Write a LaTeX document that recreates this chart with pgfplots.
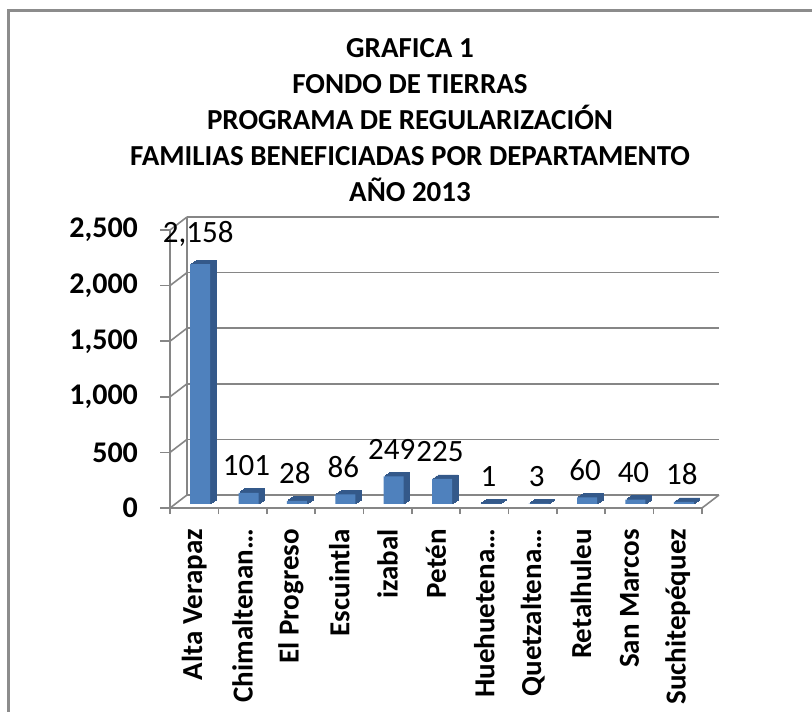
\documentclass[border=0pt]{standalone}
\usepackage{pgfplots}
\pgfplotsset{compat=1.18}
\usepackage{fontspec}
\setmainfont{Carlito}
\definecolor{barfront}{HTML}{4F81BD}
\definecolor{barside}{HTML}{34598A}
\definecolor{gridc}{HTML}{868686}
\definecolor{framec}{HTML}{8C8C8C}
\pgfplotstableread{
x y
0 2158
1 101
2 28
3 86
4 249
5 225
6 1
7 3
8 60
9 40
10 18
}\datatable
\begin{document}
\begin{tikzpicture}
\useasboundingbox (0,0) rectangle (406pt,355.5pt);
\draw[framec, line width=1.2pt] (4.2pt,-2pt) -- (4.2pt,350.2pt) -- (410pt,350.2pt);
\begin{scope}[every node/.style={font=\bfseries\fontsize{14.5}{16}\selectfont, anchor=base, inner sep=0pt}]
\node at (205pt,326.5pt) {GRAFICA 1};
\node at (205pt,308.5pt) {FONDO DE TIERRAS};
\node at (205pt,290.5pt) {PROGRAMA DE REGULARIZACIÓN};
\node at (205pt,272.5pt) {FAMILIAS BENEFICIADAS POR DEPARTAMENTO};
\node at (205pt,254.5pt) {AÑO 2013};
\end{scope}
\begin{axis}[
  at={(85pt,101.5pt)}, anchor=south west,
  scale only axis, width=266pt, height=139pt,
  xmin=-0.5, xmax=10.5, ymin=0, ymax=2500,
  clip=false,
  axis x line*=bottom, axis y line*=left,
  axis line style={gridc, line width=0.8pt},
  tick style={gridc, line width=0.8pt},
  tick align=outside,
  major tick length=5pt, minor tick length=3pt,
  ytick={0,500,1000,1500,2000,2500},
  xtick={0,...,10},
  major x tick style={draw=none},
  minor xtick={-0.5,0.5,...,10.5},
  xticklabels={Alta Verapaz, Chimaltenan…, El Progreso, Escuintla, izabal, Petén, Huehuetena…, Quetzaltena…, Retalhuleu, San Marcos, Suchitepéquez},
  xticklabel style={rotate=90, anchor=east, font=\bfseries\fontsize{14.5}{16}\selectfont},
  xticklabel shift=2pt,
  yticklabel style={font=\bfseries\fontsize{15}{17}\selectfont, xshift=-7.5pt},
  /pgf/number format/.cd, 1000 sep={,}, assume math mode=true,
]
\pgfplotsinvokeforeach{0,500,1000,1500,2000,2500}{
  \draw[gridc, line width=0.8pt] ([shift={(8.5pt,6.5pt)}]axis cs:-0.5,#1) -- ([shift={(8.5pt,6.5pt)}]axis cs:10.5,#1);
  \draw[gridc, line width=0.8pt] (axis cs:-0.5,#1) -- ([shift={(8.5pt,6.5pt)}]axis cs:-0.5,#1);
}
\draw[gridc, line width=0.8pt] ([shift={(8.5pt,6.5pt)}]axis cs:-0.5,0) -- ([shift={(8.5pt,6.5pt)}]axis cs:-0.5,2500);
\draw[gridc, line width=0.8pt] (axis cs:10.5,0) -- ([shift={(8.5pt,6.5pt)}]axis cs:10.5,0);
\addplot[ybar, bar width=10pt, bar shift=0pt, fill=barside, draw=barside, line width=0.4pt, xshift=6pt, yshift=4pt] table[x=x,y=y] {\datatable};
\addplot[ybar, bar width=10pt, bar shift=0pt, fill=barside, draw=barside, line width=0.4pt, xshift=5.25pt, yshift=3.5pt] table[x=x,y=y] {\datatable};
\addplot[ybar, bar width=10pt, bar shift=0pt, fill=barside, draw=barside, line width=0.4pt, xshift=4.5pt, yshift=3pt] table[x=x,y=y] {\datatable};
\addplot[ybar, bar width=10pt, bar shift=0pt, fill=barside, draw=barside, line width=0.4pt, xshift=3.75pt, yshift=2.5pt] table[x=x,y=y] {\datatable};
\addplot[ybar, bar width=10pt, bar shift=0pt, fill=barfront, draw=none, xshift=3pt, yshift=2pt,
  nodes near coords,
  every node near coord/.append style={font=\fontsize{15.5}{17}\selectfont, black, xshift=-1pt, yshift=5pt, /pgf/number format/assume math mode=true}]
  table[x=x,y=y] {\datatable};
\end{axis}
\end{tikzpicture}
\end{document}
